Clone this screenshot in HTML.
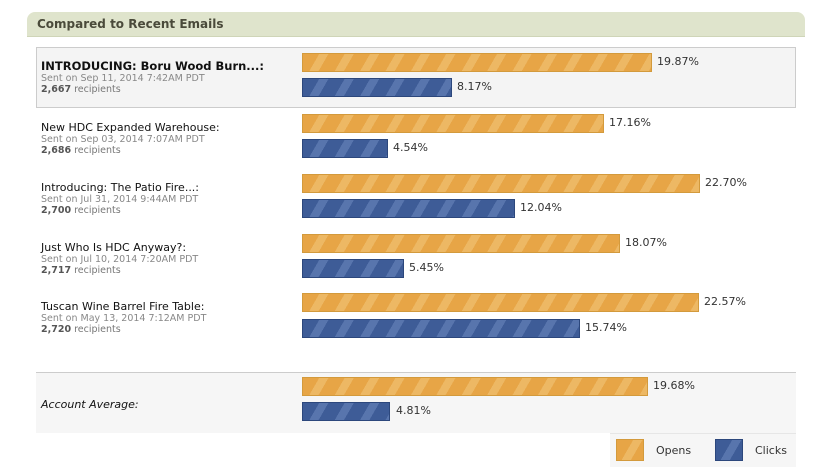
<!DOCTYPE html><html><head><style>
body{margin:0;width:817px;height:474px;background:#fff;font-family:"DejaVu Sans","Liberation Sans",sans-serif;position:relative;overflow:hidden}
.a{position:absolute}
.hdr{left:27px;top:12px;width:778px;height:24px;background:#dfe4cc;border-top-left-radius:8px;border-top-right-radius:8px;border-bottom:1px solid #cfd5b8}
.hdr span{position:absolute;left:10px;top:5px;font-size:12px;font-weight:bold;color:#4a4a3a}
.o,.c{position:absolute;left:302px;height:19px;box-sizing:border-box}
.o{background:repeating-linear-gradient(120deg,#e7a546 0 14px,#edb864 14px 22px);border:1px solid #d39a3c}
.c{background:repeating-linear-gradient(120deg,#3e5c97 0 14px,#5875ad 14px 22px);border:1px solid #2c477c}
.p{position:absolute;font-size:11px;color:#333}
.t{position:absolute;left:41px;font-size:11px;color:#111}
.d{position:absolute;left:41px;font-size:9.5px;color:#888}
.r{position:absolute;left:41px;font-size:9.5px;color:#777}
.r b{color:#555}
</style></head><body>
<div class="a hdr"><span>Compared to Recent Emails</span></div>
<div class="a" style="left:36px;top:47px;width:758px;height:59px;background:#f4f4f4;border:1px solid #ccc"></div>
<div class="a" style="left:36px;top:372px;width:760px;height:60px;background:#f6f6f6;border-top:1px solid #ccc"></div>
<div class="a" style="left:610px;top:433px;width:186px;height:33px;background:#f6f6f6;border-top:1px solid #e6e6e6"></div>

<div class="t" style="top:59px;font-weight:bold;font-size:11.5px">INTRODUCING: Boru Wood Burn...:</div>
<div class="d" style="top:73px">Sent on Sep 11, 2014 7:42AM PDT</div>
<div class="r" style="top:84px"><b>2,667</b> recipients</div>
<div class="o" style="top:53px;width:350px"></div><div class="p" style="left:657px;top:55px">19.87%</div>
<div class="c" style="top:78px;width:150px"></div><div class="p" style="left:457px;top:80px">8.17%</div>

<div class="t" style="top:121px">New HDC Expanded Warehouse:</div>
<div class="d" style="top:134px">Sent on Sep 03, 2014 7:07AM PDT</div>
<div class="r" style="top:145px"><b>2,686</b> recipients</div>
<div class="o" style="top:114px;width:302px"></div><div class="p" style="left:609px;top:116px">17.16%</div>
<div class="c" style="top:139px;width:86px"></div><div class="p" style="left:393px;top:141px">4.54%</div>

<div class="t" style="top:181px">Introducing: The Patio Fire...:</div>
<div class="d" style="top:194px">Sent on Jul 31, 2014 9:44AM PDT</div>
<div class="r" style="top:205px"><b>2,700</b> recipients</div>
<div class="o" style="top:174px;width:398px"></div><div class="p" style="left:705px;top:176px">22.70%</div>
<div class="c" style="top:199px;width:213px"></div><div class="p" style="left:520px;top:201px">12.04%</div>

<div class="t" style="top:241px">Just Who Is HDC Anyway?:</div>
<div class="d" style="top:254px">Sent on Jul 10, 2014 7:20AM PDT</div>
<div class="r" style="top:265px"><b>2,717</b> recipients</div>
<div class="o" style="top:234px;width:318px"></div><div class="p" style="left:625px;top:236px">18.07%</div>
<div class="c" style="top:259px;width:102px"></div><div class="p" style="left:409px;top:261px">5.45%</div>

<div class="t" style="top:300px">Tuscan Wine Barrel Fire Table:</div>
<div class="d" style="top:313px">Sent on May 13, 2014 7:12AM PDT</div>
<div class="r" style="top:324px"><b>2,720</b> recipients</div>
<div class="o" style="top:293px;width:397px"></div><div class="p" style="left:704px;top:295px">22.57%</div>
<div class="c" style="top:319px;width:278px"></div><div class="p" style="left:585px;top:321px">15.74%</div>

<div class="t" style="top:398px;font-style:italic">Account Average:</div>
<div class="o" style="top:377px;width:346px"></div><div class="p" style="left:653px;top:379px">19.68%</div>
<div class="c" style="top:402px;width:88px"></div><div class="p" style="left:396px;top:404px">4.81%</div>

<div class="o" style="left:616px;top:439px;width:28px;height:22px"></div>
<div class="p" style="left:656px;top:444px">Opens</div>
<div class="c" style="left:715px;top:439px;width:28px;height:22px"></div>
<div class="p" style="left:755px;top:444px">Clicks</div>
</body></html>
